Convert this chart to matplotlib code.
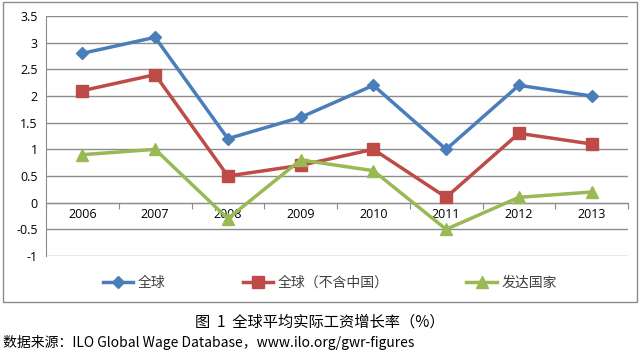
import matplotlib.pyplot as plt
from matplotlib.patches import Rectangle
from matplotlib.lines import Line2D

plt.rcParams['font.family'] = ['Noto Sans CJK SC', 'DejaVu Sans']

years = ["2006", "2007", "2008", "2009", "2010", "2011", "2012", "2013"]
world = [2.8, 3.1, 1.2, 1.6, 2.2, 1.0, 2.2, 2.0]
world_ex_china = [2.1, 2.4, 0.5, 0.7, 1.0, 0.1, 1.3, 1.1]
developed = [0.9, 1.0, -0.3, 0.8, 0.6, -0.5, 0.1, 0.2]
series_names = ["全球", "全球（不含中国）", "发达国家"]
y_ticks = [-1, -0.5, 0, 0.5, 1, 1.5, 2, 2.5, 3, 3.5]

colors = ["#4A7EBB", "#BE4B48", "#98B954"]
markers = ["D", "s", "^"]
msizes = [6, 8, 8]

fig = plt.figure(figsize=(6.4, 3.55), dpi=100)
ax = fig.add_axes([46 / 640, 1 - 256 / 355, 582 / 640, 240 / 355])

x = list(range(len(years)))
for vals, c, m, ms in zip([world, world_ex_china, developed], colors, markers, msizes):
    ax.plot(x, vals, color=c, marker=m, markersize=ms, linewidth=2.5,
            markeredgecolor=c, zorder=3)

ax.set_xlim(-0.5, len(years) - 0.5)
ax.set_ylim(-1, 3.5)
ax.set_yticks(y_ticks)
ax.set_yticklabels([f"{v:g}" for v in y_ticks], fontsize=9, family="Open Sans")
ax.tick_params(axis="y", length=0, pad=6)
ax.grid(axis="y", color="#8c8c8c", linewidth=1)
ax.set_axisbelow(True)

for s in ["top", "right"]:
    ax.spines[s].set_visible(False)
ax.spines["left"].set_color("#8c8c8c")
ax.spines["bottom"].set_position(("data", 0))
ax.spines["bottom"].set_color("#8c8c8c")

# category boundaries as major ticks, labels at centres as minor ticks
ax.set_xticks([i - 0.5 for i in range(len(years) + 1)])
ax.set_xticklabels([])
ax.set_xticks(x, minor=True)
ax.set_xticklabels(years, minor=True, fontsize=9, family="Open Sans")
ax.tick_params(axis="x", which="major", length=4, color="#8c8c8c", direction="out")
ax.tick_params(axis="x", which="minor", length=0, pad=4)

handles = [Line2D([], [], color=c, marker=m, markersize=ms, linewidth=2.5)
           for c, m, ms in zip(colors, markers, msizes)]
fig.legend(handles, series_names, loc="center", bbox_to_anchor=(0.515, 1 - 283 / 355),
           ncol=3, frameon=False, fontsize=10, handlelength=2.2, columnspacing=5.6,
           handletextpad=0.3, labelcolor="#404040")

fig.patches.append(Rectangle((3 / 640, 1 - 302 / 355), 634 / 640, 300 / 355,
                             transform=fig.transFigure, fill=False,
                             edgecolor="#8c8c8c", linewidth=1))

fig.text(0.5, 1 - 322 / 355, "图  1  全球平均实际工资增长率（%）", ha="center", va="center",
         fontsize=11)
fig.text(3 / 640, 1 - 343 / 355, "数据来源：ILO Global Wage Database，www.ilo.org/gwr-figures",
         ha="left", va="center", fontsize=10,
         family=["Noto Sans CJK SC", "DejaVu Sans"])

fig.savefig("out.png", dpi=100)
